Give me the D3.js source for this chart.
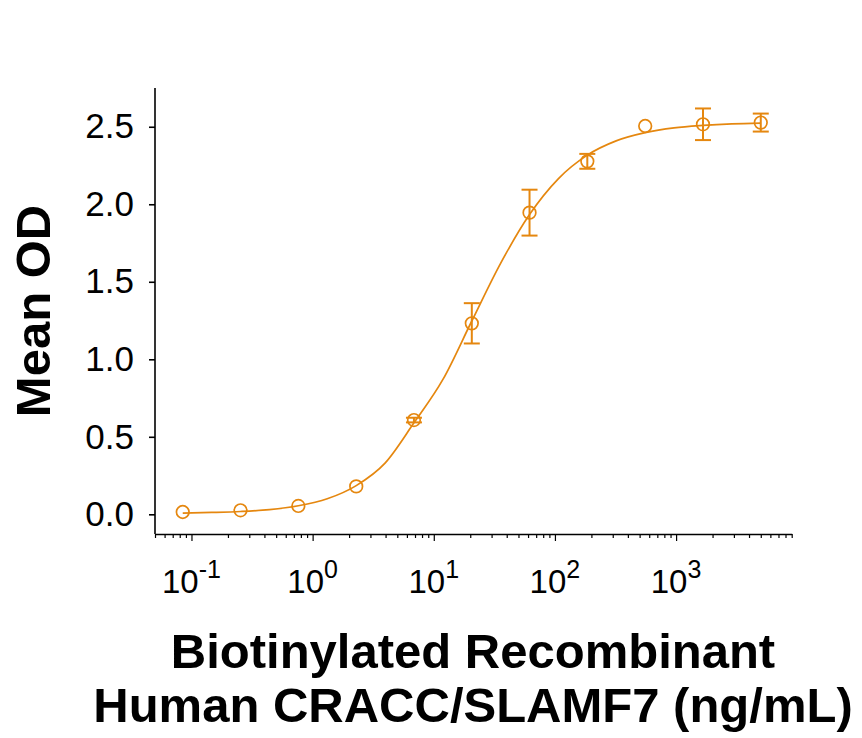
<!DOCTYPE html>
<html>
<head>
<meta charset="utf-8">
<script src="https://cdn.jsdelivr.net/npm/d3@7"></script>
<style>
  html, body { margin: 0; padding: 0; background: #fff; }
  svg { display: block; }
  text { font-family: "Liberation Sans", Arial, sans-serif; }
</style>
</head>
<body>
<svg id="chart" width="862" height="738"></svg>
<script>
// ---- data ----
const concentrations = [0.0847, 0.254, 0.762, 2.29, 6.86, 20.6, 61.7, 185, 556, 1667, 5000];
const meanOD        = [0.015, 0.026, 0.054, 0.180, 0.608, 1.232, 1.946, 2.277, 2.505, 2.516, 2.527];
const errorOD       = [0, 0, 0, 0, 0.015, 0.13, 0.148, 0.048, 0, 0.102, 0.058];

// fitted curve
const curveConc = [0.0847, 0.147, 0.254, 0.44, 0.762, 1.32, 2.29, 3.96, 6.86, 11.9, 20.6,
                   35.6, 61.7, 107, 185, 320, 556, 962, 1667, 2887, 5000];
const curveOD   = [0.008, 0.012, 0.018, 0.030, 0.055, 0.100, 0.185, 0.330, 0.590, 0.870, 1.247,
                   1.619, 1.934, 2.166, 2.317, 2.409, 2.462, 2.493, 2.509, 2.519, 2.524];

const yTicks = [0, 0.5, 1.0, 1.5, 2.0, 2.5];
const xMajorTicks = [0.1, 1, 10, 100, 1000];
const xMajorExponents = ["-1", "0", "1", "2", "3"];

const yTitle = "Mean OD";
const xTitleLines = ["Biotinylated Recombinant", "Human CRACC/SLAMF7 (ng/mL)"];

// ---- layout ----
const color = "#E5870F";
const svg = d3.select("#chart");

const x = d3.scaleLog().domain([0.05, 9000]).range([155, 791.7]);
const y = d3.scaleLinear().domain([-0.127, 2.75]).range([534, 88]);

// axes
const yAxis = d3.axisLeft(y).tickValues(yTicks).tickFormat(d3.format(".1f")).tickSize(6).tickPadding(15);
const gy = svg.append("g").attr("transform", `translate(${x.range()[0]},0)`).call(yAxis);
gy.select(".domain").attr("stroke", "#000").attr("stroke-width", 1.6).attr("d", `M0,${y.range()[1]}V${y.range()[0]}`);
gy.selectAll(".tick line").attr("stroke", "#000").attr("stroke-width", 1.6);
gy.selectAll(".tick text").attr("font-size", 35).attr("fill", "#000")
  .style("font-family", '"Liberation Sans", Arial, sans-serif');

const allXTicks = x.ticks().filter(d => d >= x.domain()[0] && d <= x.domain()[1] * 1.0001);
const isMajor = d => xMajorTicks.some(m => Math.abs(m - d) / m < 1e-6);
const xAxis = d3.axisBottom(x).tickValues(allXTicks).tickFormat(() => "").tickSizeOuter(0);
const gx = svg.append("g").attr("transform", `translate(0,${y.range()[0]})`).call(xAxis);
gx.select(".domain").attr("stroke", "#000").attr("stroke-width", 1.6);
gx.selectAll(".tick line").attr("stroke", "#000").attr("stroke-width", 1.2)
  .attr("y2", d => isMajor(d) ? 7 : 4);

// x tick labels with superscripts
const xl = svg.append("g");
xMajorTicks.forEach((t, i) => {
  const txt = xl.append("text")
    .attr("x", x(t)).attr("y", 593)
    .attr("text-anchor", "middle")
    .attr("font-size", 33).attr("fill", "#000");
  txt.append("tspan").text("10");
  txt.append("tspan").attr("font-size", 25).attr("dy", -15).text(xMajorExponents[i]);
});

// titles
svg.append("text")
  .attr("transform", `translate(50,311) rotate(-90)`)
  .attr("text-anchor", "middle")
  .attr("font-size", 49).attr("font-weight", "bold").attr("fill", "#000")
  .text(yTitle);

svg.append("text").attr("x", 473).attr("y", 668).attr("text-anchor", "middle")
  .attr("font-size", 49).attr("font-weight", "bold").attr("fill", "#000").text(xTitleLines[0]);
svg.append("text").attr("x", 473).attr("y", 722).attr("text-anchor", "middle")
  .attr("font-size", 49).attr("font-weight", "bold").attr("fill", "#000").text(xTitleLines[1]);

// fitted curve
const curvePts = curveConc.map((c, i) => [c, curveOD[i]]);
const line = d3.line().x(d => x(d[0])).y(d => y(d[1])).curve(d3.curveMonotoneX);
svg.append("path").datum(curvePts)
  .attr("d", line).attr("fill", "none").attr("stroke", color).attr("stroke-width", 1.7);

// error bars
const pts = concentrations.map((c, i) => ({ c, m: meanOD[i], e: errorOD[i] }));
const eb = svg.append("g").attr("stroke", color).attr("stroke-width", 2).attr("fill", "none");
pts.filter(d => d.e > 0).forEach(d => {
  const cx = x(d.c), y1 = y(d.m + d.e), y2 = y(d.m - d.e);
  eb.append("line").attr("x1", cx).attr("x2", cx).attr("y1", y1).attr("y2", y2);
  eb.append("line").attr("x1", cx - 8).attr("x2", cx + 8).attr("y1", y1).attr("y2", y1);
  eb.append("line").attr("x1", cx - 8).attr("x2", cx + 8).attr("y1", y2).attr("y2", y2);
});

// markers
svg.append("g").selectAll("circle").data(pts).join("circle")
  .attr("cx", d => x(d.c)).attr("cy", d => y(d.m)).attr("r", 6.3)
  .attr("fill", "none").attr("stroke", color).attr("stroke-width", 1.7);
</script>
</body>
</html>
